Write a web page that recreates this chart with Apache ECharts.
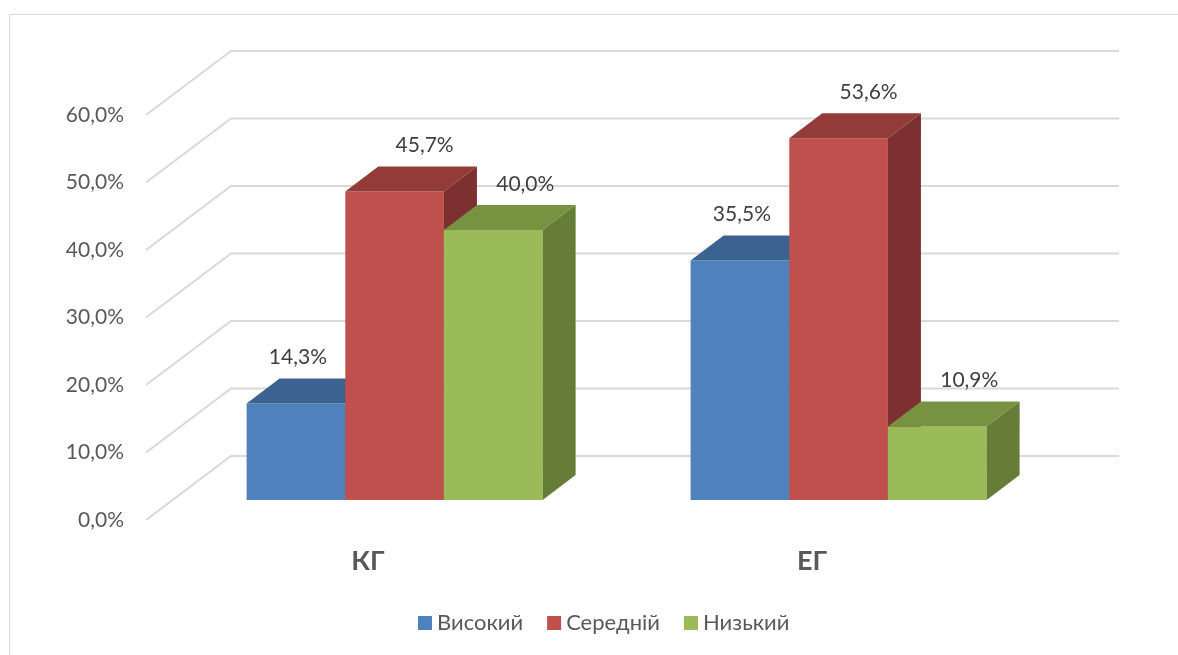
<!DOCTYPE html>
<html>
<head>
<meta charset="utf-8">
<script src="https://cdn.jsdelivr.net/npm/echarts@6/dist/echarts.min.js"></script>
<style>html,body{margin:0;padding:0;background:#fff;}#c{width:1178px;height:655px;}</style>
</head>
<body>
<div id="c"></div>
<script>
// ---- data ----
var categories = ['КГ', 'ЕГ'];
var seriesNames = ['Високий', 'Середній', 'Низький'];
var highValues = [14.3, 35.5];
var midValues = [45.7, 53.6];
var lowValues = [40.0, 10.9];
var yTicks = [0, 10, 20, 30, 40, 50, 60];

// ---- styling / geometry ----
var FONT = "Lato, 'Noto Sans', sans-serif";
var FX = 26.6, FY = -20;   // bar front plane offset from front wall
var DX = 33, DY = -25;     // bar depth
var WX = 85, WY = -64;     // full floor depth (front wall -> back wall)
var palettes = [
  {front: '#4F81BD', top: '#3C6290', side: '#375A85', labelDx: 2},
  {front: '#C0504D', top: '#923B39', side: '#7C3030', labelDx: 30},
  {front: '#9BBB59', top: '#779341', side: '#667D38', labelDx: 32}
];

function fmt(v) { return v.toFixed(1).replace('.', ',') + '%'; }

function makeRender(si) {
  var p = palettes[si];
  return function (params, api) {
    var cat = api.value(0), v = api.value(1);
    var band = api.size([1, 0])[0];
    var bw = band * 2 / 9;
    var base = api.coord([cat, 0]);
    var topP = api.coord([cat, v]);
    var x0 = base[0] + (si - 1.5) * bw + FX;
    var x1 = x0 + bw;
    var yb = base[1] + FY, yt = topP[1] + FY;
    return {
      type: 'group',
      children: [
        {type: 'rect', shape: {x: x0, y: yt, width: bw, height: yb - yt}, style: {fill: p.front}},
        {type: 'polygon', shape: {points: [[x0, yt], [x1, yt], [x1 + DX, yt + DY], [x0 + DX, yt + DY]]}, style: {fill: p.top}},
        {type: 'polygon', shape: {points: [[x1, yt], [x1, yb], [x1 + DX, yb + DY], [x1 + DX, yt + DY]]}, style: {fill: p.side}},
        {type: 'text', x: x0 + bw / 2 + p.labelDx, y: yt + DY - 21,
         style: {text: fmt(v), fill: '#404040', font: '21px ' + FONT, align: 'center', verticalAlign: 'middle'}}
      ]
    };
  };
}

function wallRender(params, api) {
  var v = api.value(0);
  var y = api.coord([0, v])[1];
  var gx = params.coordSys.x, gw = params.coordSys.width;
  return {
    type: 'polyline',
    shape: {points: [[gx, y], [gx + WX, y + WY], [gx + gw + WX, y + WY]]},
    style: {stroke: '#D9D9D9', lineWidth: 2, fill: null}
  };
}

var valueSets = [highValues, midValues, lowValues];
var series = [{
  type: 'custom', name: 'walls', renderItem: wallRender, z: 1,
  data: yTicks.map(function (t) { return [t]; }),
  encode: {y: 0}, silent: true
}];
valueSets.forEach(function (vals, si) {
  series.push({
    type: 'custom', name: seriesNames[si], renderItem: makeRender(si), z: 2 + si,
    itemStyle: {color: palettes[si].front},
    data: vals.map(function (v, j) { return [j, v]; }),
    encode: {x: 0, y: 1}
  });
});

var chart = echarts.init(document.getElementById('c'));
chart.setOption({
  animation: false,
  backgroundColor: '#fff',
  graphic: [{type: 'rect', shape: {x: 9.5, y: 14.5, width: 1300, height: 800},
             style: {stroke: '#D9D9D9', fill: null, lineWidth: 1}, silent: true, z: -1}],
  grid: {left: 146, top: 115, width: 888, height: 405},
  xAxis: {
    type: 'category', data: categories,
    axisLine: {show: false}, axisTick: {show: false}, splitLine: {show: false},
    axisLabel: {color: '#595959', fontSize: 27, fontWeight: 'bold', fontFamily: FONT, margin: 28}
  },
  yAxis: {
    type: 'value', min: 0, max: 60, interval: 10,
    axisLine: {show: false}, axisTick: {show: false}, splitLine: {show: false},
    axisLabel: {color: '#595959', fontSize: 21, fontFamily: FONT, margin: 22, formatter: fmt}
  },
  legend: {
    data: seriesNames, left: 418, top: 612, icon: 'rect', padding: 0,
    itemWidth: 14, itemHeight: 14, itemGap: 24,
    textStyle: {color: '#595959', fontSize: 22, fontFamily: FONT}
  },
  series: series
});
</script>
</body>
</html>
